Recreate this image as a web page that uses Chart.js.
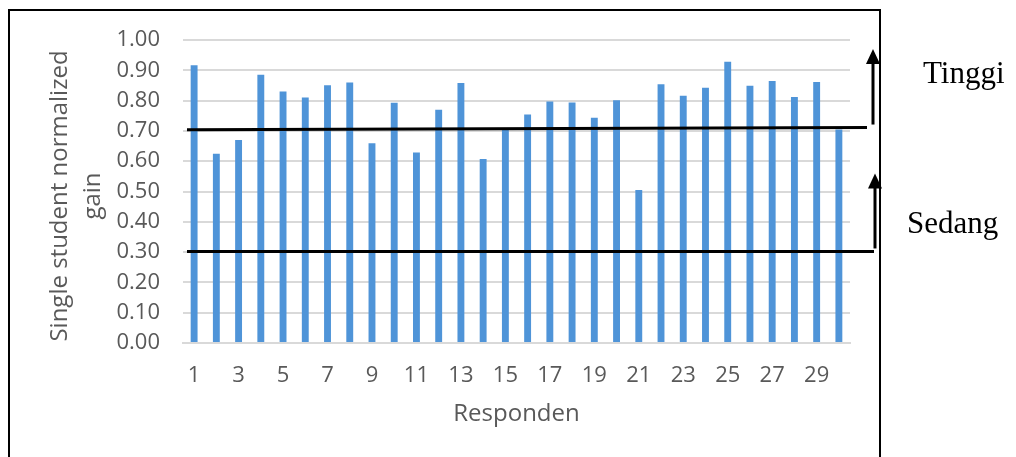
<!DOCTYPE html>
<html>
<head>
<meta charset="utf-8">
<script src="https://cdn.jsdelivr.net/npm/chart.js@4"></script>
<style>
  html, body { margin: 0; padding: 0; background: #fff; }
  #wrap { width: 1016px; height: 457px; position: relative; }
</style>
</head>
<body>
<div id="wrap"><canvas id="gainChart"></canvas></div>
<script>
const responden = Array.from({length: 30}, (_, i) => String(i + 1));
const gain = [0.917, 0.625, 0.670, 0.885, 0.830, 0.810, 0.851, 0.860, 0.659, 0.793,
              0.629, 0.770, 0.858, 0.607, 0.703, 0.754, 0.797, 0.794, 0.743, 0.801,
              0.505, 0.854, 0.816, 0.842, 0.928, 0.849, 0.865, 0.812, 0.861, 0.705];
const yTicks = [0, 0.1, 0.2, 0.3, 0.4, 0.5, 0.6, 0.7, 0.8, 0.9, 1.0];
const yTitle = ["Single student normalized", "gain"];
// category borders: [value at left end, value at right end]
const batasTinggi = [0.704, 0.711];
const batasSedang = [0.302, 0.302];
const kategori = ["Tinggi", "Sedang"];

// y title, frame, threshold lines, arrows and category labels
const overlay = {
  id: "overlay",
  afterDraw(chart) {
    const ctx = chart.ctx;
    const y = chart.scales.y;
    const a = chart.chartArea;
    ctx.save();

    // two-line axis title, first line on the outside
    ctx.save();
    ctx.translate(y.left + 17, 196);
    ctx.rotate(-Math.PI / 2);
    ctx.fillStyle = "#595959";
    ctx.font = "24px 'Open Sans'";
    ctx.textAlign = "center";
    ctx.textBaseline = "middle";
    ctx.fillText(yTitle[0], 0, 0);
    ctx.fillText(yTitle[1], 0, 33);
    ctx.restore();

    ctx.strokeStyle = "#000";
    ctx.lineWidth = 2;
    ctx.strokeRect(9, 10, 871, 470);

    ctx.lineWidth = 3;
    ctx.beginPath();
    ctx.moveTo(a.left + 4, y.getPixelForValue(batasTinggi[0]));
    ctx.lineTo(a.right + 17, y.getPixelForValue(batasTinggi[1]));
    ctx.moveTo(a.left + 4, y.getPixelForValue(batasSedang[0]));
    ctx.lineTo(a.right + 24, y.getPixelForValue(batasSedang[1]));
    ctx.stroke();

    function arrow(x, from, to) {
      const y0 = y.getPixelForValue(from), y1 = y.getPixelForValue(to);
      ctx.lineWidth = 3;
      ctx.beginPath();
      ctx.moveTo(x, y0);
      ctx.lineTo(x, y1 + 12);
      ctx.stroke();
      ctx.beginPath();
      ctx.moveTo(x, y1);
      ctx.lineTo(x - 7, y1 + 15);
      ctx.lineTo(x + 7, y1 + 15);
      ctx.closePath();
      ctx.fill();
    }
    ctx.fillStyle = "#000";
    arrow(a.right + 23, batasTinggi[1] + 0.01, 0.97);
    arrow(a.right + 25, batasSedang[1] + 0.01, 0.559);

    ctx.font = "31px 'Liberation Serif', serif";
    ctx.textBaseline = "alphabetic";
    ctx.fillText(kategori[0], 923, 83);
    ctx.fillText(kategori[1], 907, 233);
    ctx.restore();
  }
};

new Chart(document.getElementById("gainChart"), {
  type: "bar",
  data: {
    labels: responden,
    datasets: [{
      label: "Single student normalized gain",
      data: gain,
      backgroundColor: "#4f94d8",
      barPercentage: 0.62,
      categoryPercentage: 0.5
    }]
  },
  options: {
    responsive: true,
    maintainAspectRatio: false,
    animation: false,
    layout: { padding: { left: 43, right: 166, top: 40, bottom: 28 } },
    plugins: { legend: { display: false }, tooltip: { enabled: false } },
    scales: {
      x: {
        afterFit: s => { s.height = 86; },
        grid: { display: false, drawTicks: false },
        border: { color: "#d9d9d9", width: 2 },
        ticks: {
          color: "#595959",
          font: { family: "'Open Sans'", size: 22 },
          autoSkip: false,
          maxRotation: 0,
          padding: 20,
          callback: (v, i) => (i % 2 === 0 ? responden[i] : "")
        },
        title: {
          display: true,
          text: "Responden",
          color: "#595959",
          font: { family: "'Open Sans'", size: 24 },
          padding: { top: 0, bottom: 0 }
        }
      },
      y: {
        min: 0,
        max: 1,
        afterFit: s => { s.width = 140; },
        afterBuildTicks: s => { s.ticks = yTicks.map(v => ({ value: v })); },
        grid: { color: "#d9d9d9", lineWidth: 2, drawTicks: false },
        border: { display: false },
        ticks: {
          color: "#595959",
          font: { family: "'Open Sans'", size: 22 },
          autoSkip: false,
          padding: 23,
          callback: v => Number(v).toFixed(2)
        },
        title: { display: false }
      }
    }
  },
  plugins: [overlay]
});
</script>
</body>
</html>
